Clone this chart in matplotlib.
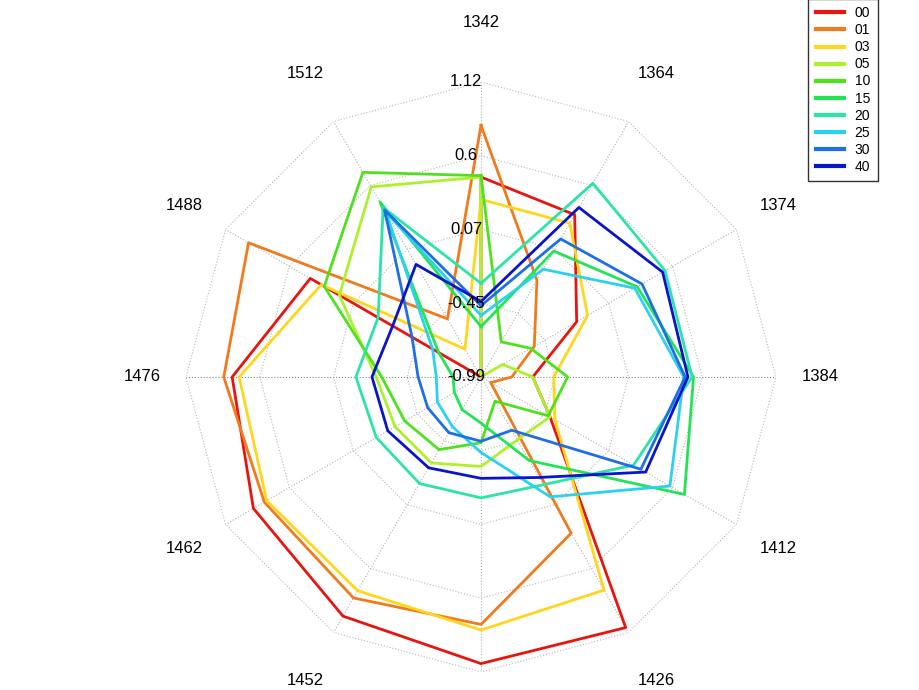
import numpy as np
import matplotlib
matplotlib.use('Agg')
import matplotlib.pyplot as plt

plt.rcParams['font.family'] = ['Liberation Sans', 'DejaVu Sans']

# spokes, clockwise from the top (bottom label falls outside the picture)
categories = ['1342', '1364', '1374', '1384', '1412', '1426', '',
              '1452', '1462', '1476', '1488', '1512']
ring_values = [-0.99, -0.4625, 0.065, 0.5925, 1.12]
ring_labels = ['-0.99', '-0.45', '0.07', '0.6', '1.12']

series_names = ['00', '01', '03', '05', '10', '15', '20', '25', '30', '40']
s00 = [0.44, 0.35, -0.20, -0.62, -0.42, 1.08, 1.06, 0.985, 0.89, 0.79, 0.42, -0.99]
s01 = [0.81, -0.19, -0.55, -0.77, -0.91, 0.30, 0.78, 0.835, 0.80, 0.85, 0.93, -0.51]
s03 = [0.28, 0.28, -0.11, -0.47, -0.38, 0.77, 0.82, 0.775, 0.78, 0.74, 0.33, -0.76]
s05 = [0.44, -0.99, -0.81, -0.62, -0.42, -0.47, -0.35, -0.28, -0.28, -0.24, 0.18, 0.58]
s10 = [0.45, -0.70, -0.58, -0.37, -0.435, -0.79, -0.52, -0.39, -0.36, -0.28, 0.305, 0.70]
s15 = [-0.63, 0.05, 0.30, 0.53, 0.69, -0.30, -0.66, -0.72, -0.77, -0.79, -0.64, 0.455]
s20 = [-0.32, 0.61, 0.53, 0.52, 0.27, -0.10, -0.125, -0.11, -0.125, -0.095, -0.14, 0.41]
s25 = [-0.55, -0.10, 0.28, 0.46, 0.57, 0.00, -0.45, -0.58, -0.63, -0.67, -0.59, 0.37]
s30 = [-0.48, 0.15, 0.34, 0.47, 0.33, -0.55, -0.53, -0.53, -0.55, -0.54, -0.42, 0.39]
s40 = [-0.45, 0.41, 0.51, 0.49, 0.37, -0.16, -0.265, -0.24, -0.22, -0.21, -0.26, -0.06]
all_series = [s00, s01, s03, s05, s10, s15, s20, s25, s30, s40]

colors = ['#e8140e', '#f07a1c', '#ffd61c', '#aef02c', '#4ee21e',
          '#22e454', '#2ae4a8', '#2ad2f0', '#1e6ee4', '#0a14c8']

n = len(categories)
theta = np.arange(n) * 2 * np.pi / n
theta_c = np.append(theta, theta[0])
rmin, rmax = ring_values[0], ring_values[-1]

fig = plt.figure(figsize=(9.2, 6.9), dpi=100)
ax = fig.add_axes([0.2022, 0.0261, 0.6413, 0.8551], projection='polar')
ax.set_theta_zero_location('N')
ax.set_theta_direction(-1)
ax.set_ylim(rmin, rmax)
ax.set_axis_off()

# polygon grid
for v in ring_values[1:]:
    ax.plot(theta_c, [v] * (n + 1), ls=':', color='#b8b8b8', lw=0.8, zorder=1)
for i, t in enumerate(theta):
    c = '#808080' if i in (3, 9) else '#b0b0b0'
    ax.plot([t, t], [rmin, rmax], ls=':', color=c, lw=0.8, zorder=1)

# data
for name, vals, col in zip(series_names, all_series, colors):
    ax.plot(theta_c, vals + [vals[0]], color=col, lw=2.0, label=name, zorder=3)

# category labels, a bit further out at top/bottom than at the sides
span = rmax - rmin
for t, lab in zip(theta, categories):
    r_lab = rmax + span * (0.149 + 0.054 * np.cos(t) ** 2)
    ax.text(t, r_lab, lab, ha='center', va='center', fontsize=12, clip_on=False)

# radial tick labels along the top spoke
for v, lab in zip(ring_values, ring_labels):
    ax.annotate(lab, xy=(0, v), xytext=(-15, 0), textcoords='offset pixels',
                ha='center', va='center', fontsize=12, zorder=4)

leg = fig.legend(loc='upper right', bbox_to_anchor=(878 / 920, 1.002),
                 fontsize=10, frameon=True, fancybox=False, borderaxespad=0,
                 handlelength=2.0, handletextpad=0.8, labelspacing=0.22,
                 borderpad=0.55)
leg.get_frame().set_edgecolor('black')
leg.get_frame().set_linewidth(1.0)
for h in leg.get_lines():
    h.set_linewidth(3.0)

fig.savefig('out.png', dpi=100, facecolor='white')
